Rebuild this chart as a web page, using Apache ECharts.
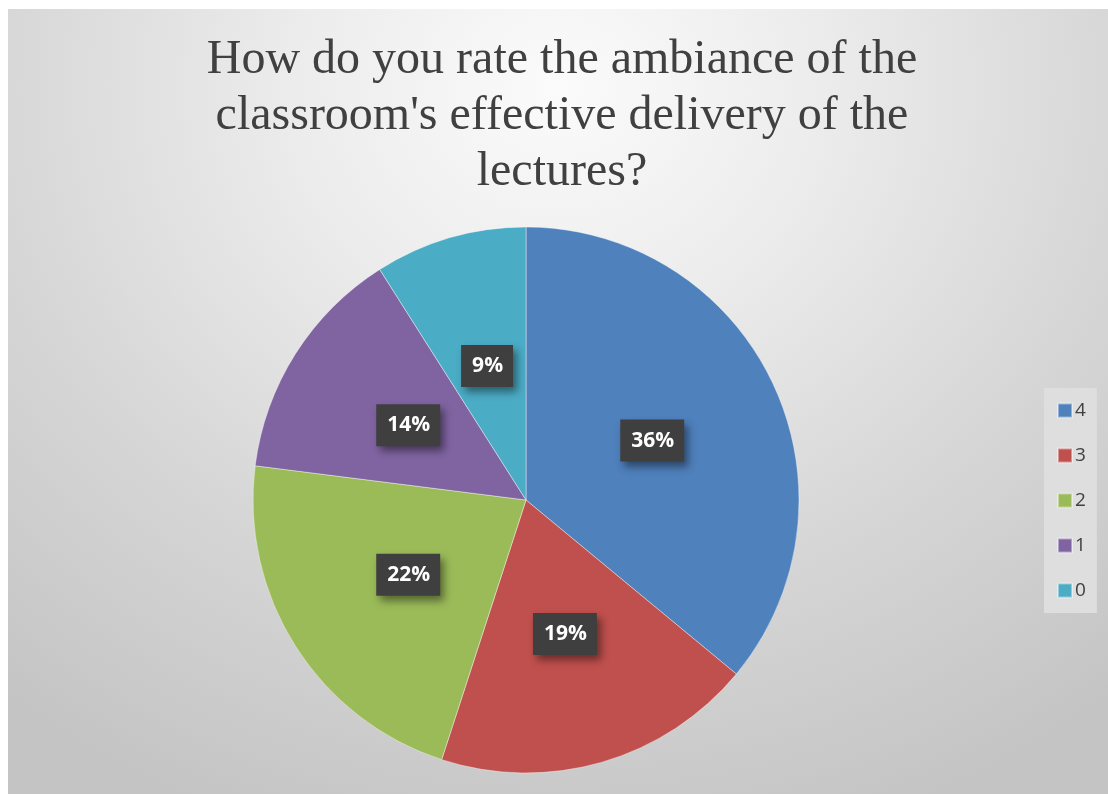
<!DOCTYPE html>
<html>
<head>
<meta charset="utf-8">
<script src="https://cdn.jsdelivr.net/npm/echarts@6/dist/echarts.min.js"></script>
<style>
  html, body { margin: 0; padding: 0; background: #ffffff; }
  #chart {
    position: absolute; left: 8px; top: 9px; width: 1100px; height: 785px;
    background: radial-gradient(ellipse 80% 100% at 50% 10%, #fbfbfb 0%, #ececec 30%, #d6d6d6 65%, #c4c4c4 100%);
  }
</style>
</head>
<body>
<div id="chart"></div>
<script>
// 图表数据
const titleText = "How do you rate the ambiance of the\nclassroom's effective delivery of the\nlectures?";
const categories = ['4', '3', '2', '1', '0'];
const values = [36, 19, 22, 14, 9];
const colors = ['#4F81BD', '#C0504D', '#9BBB59', '#8064A2', '#4BACC6'];

const chart = echarts.init(document.getElementById('chart'));

const option = {
  backgroundColor: 'transparent',
  color: colors,
  title: {
    text: titleText,
    left: 549,
    top: 18,
    textAlign: 'center',
    textStyle: {
      fontFamily: 'Liberation Serif',
      fontWeight: 'normal',
      fontSize: 48,
      lineHeight: 56,
      color: '#404040'
    }
  },
  legend: {
    orient: 'vertical',
    left: 1036,
    top: 379,
    padding: [13, 11, 13, 13],
    backgroundColor: '#dedede',
    itemWidth: 14,
    itemHeight: 14,
    itemGap: 26,
    icon: 'rect',
    data: categories,
    textStyle: {
      fontFamily: 'Open Sans',
      fontSize: 19,
      color: '#404040',
      padding: [0, 0, 0, -2]
    }
  },
  series: [{
    type: 'pie',
    center: [518, 491],
    radius: 273,
    startAngle: 90,
    clockwise: true,
    percentPrecision: 0,
    avoidLabelOverlap: false,
    silent: true,
    itemStyle: {
      borderColor: 'rgba(255,255,255,0.4)',
      borderWidth: 1
    },
    label: {
      position: 'inside',
      formatter: '{d}%',
      fontFamily: 'Open Sans',
      fontWeight: 'bold',
      fontSize: 21,
      color: '#ffffff',
      backgroundColor: '#3f3f3f',
      padding: [11, 10, 10, 11],
      shadowColor: 'rgba(0,0,0,0.45)',
      shadowBlur: 8,
      shadowOffsetX: 4,
      shadowOffsetY: 5
    },
    labelLine: { show: false },
    data: categories.map((c, i) => ({ name: c, value: values[i] }))
  }]
};

chart.setOption(option);
</script>
</body>
</html>
